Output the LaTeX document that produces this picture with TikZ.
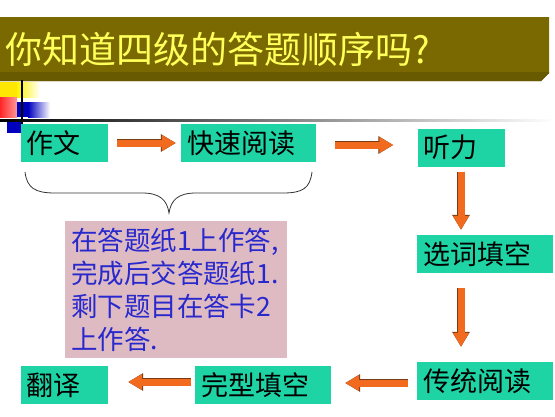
\documentclass[tikz,border=0pt]{standalone}
\usepackage{fontspec}
\newfontfamily\cjk{Noto Sans CJK SC}
\usetikzlibrary{arrows.meta,calc,positioning}
\definecolor{boxgreen}{RGB}{30,212,165}
\definecolor{notepink}{RGB}{222,186,194}
\definecolor{noteblue}{RGB}{40,40,205}
\definecolor{titleolive}{RGB}{122,105,0}
\definecolor{titledark}{RGB}{104,90,0}
\definecolor{titleyellow}{RGB}{255,255,90}
\definecolor{arroworange}{RGB}{242,106,30}
\definecolor{arrowedge}{RGB}{120,60,20}
\tikzset{
  stepbox/.style={fill=boxgreen, inner xsep=6pt, inner ysep=0pt, text height=29.3pt, text depth=8.7pt,
    text width=#1, align=left, font=\cjk\fontsize{27}{30}\selectfont},
  notebox/.style={fill=notepink, inner xsep=6pt, minimum height=137pt, text width=210pt, align=left,
    text=noteblue, font=\cjk\fontsize{26.5}{33}\selectfont},
  flowarrow/.style={line width=7pt, draw=arroworange, -{Triangle[length=14pt,width=15pt]},
    preaction={draw=arrowedge, line width=8.4pt, -{Triangle[length=15pt,width=16.8pt]}}}
}
\begin{document}
\begin{tikzpicture}[x=1pt,y=-1pt]
\useasboundingbox[fill=white] (0,0) rectangle (555,416);
% title bar
\fill[titleolive] (0,17) -- (549,17) -- (549,73) -- (541,81) -- (0,81) -- cycle;
\fill[titledark] (0,72) -- (549,72) -- (549,73) -- (541,81) -- (0,81) -- cycle;
\node[anchor=base west, inner sep=0pt, text=titleyellow, font=\cjk\fontsize{37}{40}\selectfont] (title) at (5,63) {你知道四级的答题顺序吗?};
% corner squares
\fill[yellow!90!orange] (0,82) rectangle (17,97);
\shade[left color=yellow!90!orange, right color=white] (17,82) rectangle (40,97);
\shade[left color=red!85!white, right color=red!40!white] (0,97) rectangle (17,117);
\fill[blue!75!black] (17,102) rectangle (28,117);
\shade[left color=blue!75!black, right color=white] (28,102) rectangle (50,117);
\fill[blue!75!black] (7,122) rectangle (21,133);
\draw[line width=1.5pt] (22,80) -- (22,125);
\shade[left color=black, middle color=gray!80, right color=white] (0,119) rectangle (555,121.5);
% boxes
\node[stepbox=75pt] (zuowen) at (64.5,143) {作文};
\node[stepbox=123pt] (kuaisu) at (248.5,143) {快速阅读};
\node[stepbox=75pt] (tingli) at (461,147.5) {听力};
\node[stepbox=124pt] (xuanci) at (485,254) {选词填空};
\node[stepbox=124pt] (chuantong) at (485,381) {传统阅读};
\node[stepbox=124pt] (wanxing) at (263,385) {完型填空};
\node[stepbox=75pt] (fanyi) at (64.5,385) {翻译};
\node[notebox] (note) at (176,289.5) {在答题纸1上作答,\\完成后交答题纸1.\\剩下题目在答卡2\\上作答.};
% arrows
\draw[flowarrow] ([xshift=9pt]zuowen.east) -- ([xshift=-5pt]kuaisu.west);
\draw[flowarrow] ([xshift=19pt,yshift=-2pt]kuaisu.east) -- ($(tingli.west |- kuaisu.east)+(-24pt,-2pt)$);
\draw[flowarrow] ([yshift=-5pt]tingli.south) -- ($(tingli.south |- xuanci.north)+(0,5pt)$);
\draw[flowarrow] ($(tingli.south |- xuanci.south)+(0,-15pt)$) -- ($(tingli.south |- chuantong.north)+(0,15pt)$);
\draw[flowarrow] ([xshift=-9pt,yshift=-2pt]chuantong.west) -- ($(wanxing.east |- chuantong.west)+(14pt,-2pt)$);
\draw[flowarrow] ([xshift=-4pt,yshift=3pt]wanxing.west) -- ($(fanyi.east |- wanxing.west)+(20pt,3pt)$);
% brace
\draw[gray!40!black, line width=0.8pt] (25,172) .. controls (27,188) and (35,193) .. (55,193) -- (142,193)
  .. controls (160,193) and (167,200) .. (169,213) .. controls (171,200) and (178,193) .. (196,193)
  -- (283,193) .. controls (303,193) and (310,188) .. (312,172);
\end{tikzpicture}
\end{document}
